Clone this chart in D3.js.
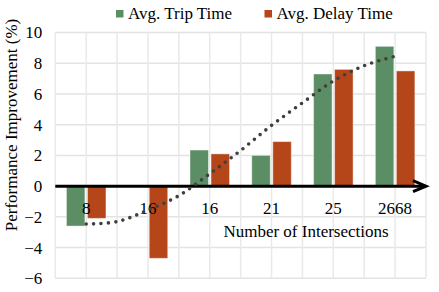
<!DOCTYPE html>
<html>
<head>
<meta charset="utf-8">
<script src="https://cdn.jsdelivr.net/npm/d3@7"></script>
<style>
  body { margin: 0; background: #fff; }
</style>
</head>
<body>
<div id="chart"></div>
<script>
// chart data
var categories = ["8", "16", "16", "21", "25", "2668"];
var seriesNames = ["Avg. Trip Time", "Avg. Delay Time"];
var tripTime = [-2.6, 0, 2.35, 2.0, 7.3, 9.1];
var delayTime = [-2.1, -4.7, 2.1, 2.9, 7.6, 7.5];
var yTicks = [-6, -4, -2, 0, 2, 4, 6, 8, 10];
// dotted trend line at half-category steps
var trendPos = [0, 0.5, 1, 1.5, 2, 2.5, 3, 3.5, 4, 4.5, 5];
var trendVal = [-2.47, -2.31, -1.56, -0.62, 0.81, 2.32, 3.95, 5.42, 6.84, 7.84, 8.46];

var colors = ["#5b8e65", "#b4461a"];
var serif = "'Liberation Serif', Tinos, 'Times New Roman', 'DejaVu Serif', serif";
var width = 439, height = 292;
var plotL = 55.3, plotR = 426, plotT = 32.5, plotB = 278.3;

var svg = d3.select("#chart").append("svg")
    .attr("width", width)
    .attr("height", height)
    .style("font-family", serif);

var yScale = d3.scaleLinear().domain([-6, 10]).range([plotB, plotT]);
var xPos = d3.scaleLinear().domain([-0.5, categories.length - 0.5]).range([plotL, plotR]);
var xBand = d3.scaleBand().domain(d3.range(categories.length)).range([plotL, plotR])
    .paddingInner(0.36).paddingOuter(0.18);
var xInner = d3.scaleBand().domain([0, 1]).range([0, xBand.bandwidth()]).paddingInner(0.12);

function label(sel) {
    return sel.attr("font-family", serif).style("font-family", serif)
        .style("font-size", "17px").attr("fill", "#000");
}

// grid
var grid = svg.append("g");
grid.selectAll(".hgrid")
    .data(yTicks)
    .join("line")
    .attr("x1", plotL).attr("x2", plotR)
    .attr("y1", d => yScale(d)).attr("y2", d => yScale(d))
    .attr("stroke", "#e3e3e3").attr("stroke-width", 1.5);
grid.selectAll(".vgrid")
    .data(d3.range(-0.5, categories.length, 0.5))
    .join("line")
    .attr("x1", d => xPos(d)).attr("x2", d => xPos(d))
    .attr("y1", plotT).attr("y2", plotB)
    .attr("stroke", "#e9e9e9").attr("stroke-width", 1.5);

// y axis labels
var yAxis = d3.axisLeft(yScale).tickValues(yTicks).tickSize(0).tickPadding(13);
var ya = svg.append("g").attr("transform", `translate(${plotL},0)`).call(yAxis);
ya.attr("font-family", null);
ya.select(".domain").remove();
label(ya.selectAll("text"));

// bars
var barData = [];
categories.forEach(function (c, i) {
    barData.push({i: i, s: 0, v: tripTime[i]});
    barData.push({i: i, s: 1, v: delayTime[i]});
});
svg.append("g").selectAll("rect")
    .data(barData)
    .join("rect")
    .attr("x", d => xBand(d.i) + xInner(d.s))
    .attr("width", xInner.bandwidth())
    .attr("y", d => yScale(Math.max(0, d.v)))
    .attr("height", d => Math.abs(yScale(d.v) - yScale(0)))
    .attr("fill", d => colors[d.s])
    .attr("stroke", "rgba(255,255,255,0.45)")
    .attr("stroke-width", 1);

// category labels
label(svg.append("g").selectAll("text")
    .data(categories)
    .join("text")
    .attr("x", (d, i) => xPos(i))
    .attr("y", 214)
    .attr("text-anchor", "middle")
    .text(d => d));

// x axis with arrow
var y0 = yScale(0);
svg.append("line")
    .attr("x1", plotL).attr("x2", plotR - 1)
    .attr("y1", y0).attr("y2", y0)
    .attr("stroke", "#000").attr("stroke-width", 3);
svg.append("path")
    .attr("d", `M${plotR - 13},${y0 - 5.5}L${plotR},${y0}L${plotR - 13},${y0 + 5.5}`)
    .attr("fill", "none").attr("stroke", "#000").attr("stroke-width", 3)
    .attr("stroke-linejoin", "miter");

// trend line
var trend = d3.line()
    .x(d => xPos(d[0]))
    .y(d => yScale(d[1]))
    .curve(d3.curveCatmullRom);
svg.append("path")
    .datum(trendPos.map((p, i) => [p, trendVal[i]]))
    .attr("d", trend)
    .attr("fill", "none")
    .attr("stroke", "#3f3f3f")
    .attr("stroke-width", 3.6)
    .attr("stroke-linecap", "round")
    .attr("stroke-dasharray", "0 7.4");

// axis titles
label(svg.append("text")
    .attr("x", 306).attr("y", 237)
    .attr("text-anchor", "middle")
    .text("Number of Intersections"));
label(svg.append("text")
    .attr("transform", "translate(17,125) rotate(-90)")
    .attr("text-anchor", "middle")
    .text("Performance Improvement (%)"));

// legend
var legendX = [116, 264.5];
var lg = svg.append("g").selectAll("g")
    .data(seriesNames)
    .join("g")
    .attr("transform", (d, i) => `translate(${legendX[i]},0)`);
lg.append("rect")
    .attr("x", 0).attr("y", 10)
    .attr("width", 7.5).attr("height", 7.5)
    .attr("fill", (d, i) => colors[i]);
label(lg.append("text")
    .attr("x", 12).attr("y", 19)
    .text(d => d));
</script>
</body>
</html>
